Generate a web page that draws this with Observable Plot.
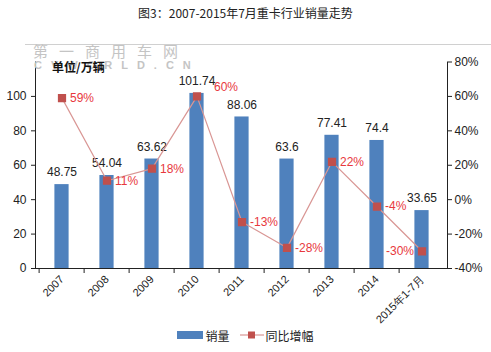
<!DOCTYPE html>
<html>
<head>
<meta charset="utf-8">
<script src="https://cdn.jsdelivr.net/npm/d3@7"></script>
<script src="https://cdn.jsdelivr.net/npm/@observablehq/plot@0.6"></script>
<style>
  body { margin: 0; background: #fff; font-family: "Liberation Sans", Arial, sans-serif; }
  #wrap { position: relative; width: 491px; height: 352px; overflow: hidden; }
  #title { height: 26px; line-height: 26px; text-align: center; font-size: 12px; color: #222;
           font-family: "Noto Sans CJK SC", sans-serif; }
  #legend { position: absolute; top: 326px; left: 0; width: 491px; height: 18px; display: flex;
            justify-content: center; align-items: center; font-size: 12px; color: #222;
            font-family: "Noto Sans CJK SC", sans-serif; }
  .wm { position: absolute; color: #c4c4c4; font-family: "Noto Sans CJK SC", sans-serif; }
</style>
</head>
<body>
<div id="wrap">
  <div id="title">图3：2007-2015年7月重卡行业销量走势</div>
  <div id="chart"></div>
  <div id="legend"></div>
  <div style="position:absolute;left:25px;top:44px;width:466px;height:1px;background:#d0d0d0"></div>
  <div class="wm" style="left:33px;top:40px;font-size:15px;letter-spacing:11px;">第一商用车网</div>
  <div class="wm" style="left:34px;top:59px;font-size:11px;letter-spacing:9px;font-family:'Liberation Sans',sans-serif;font-weight:bold;">CVWORLD.CN</div>
  <div style="position:absolute;left:52px;top:58px;font-size:12px;font-weight:bold;color:#111;font-family:'Noto Sans CJK SC',sans-serif;">单位/万辆</div>
</div>
<script>
const years = ["2007", "2008", "2009", "2010", "2011", "2012", "2013", "2014", "2015年1-7月"];
const sales = [48.75, 54.04, 63.62, 101.74, 88.06, 63.6, 77.41, 74.4, 33.65];
const growth = [59, 11, 18, 60, -13, -28, 22, -4, -30];
const salesTicks = [0, 20, 40, 60, 80, 100];
const growthTicks = [-40, -20, 0, 20, 40, 60, 80];

const BLUE = "#4F81BD";
const LINE = "#D99694";
const MARK = "#C0504D";
const LABEL_RED = "#E8383D";

// growth mapped onto sales scale: -40..80 -> 0..120
const toLeft = p => p + 40;

const data = years.map((y, i) => ({year: y, sales: sales[i], growth: growth[i], g: toLeft(growth[i])}));
const special = new Set(["2010", "2015年1-7月"]);
const dataR = data.filter(d => !special.has(d.year));

const chart = Plot.plot({
  width: 491,
  height: 296,
  marginTop: 35.5,
  marginBottom: 54,
  marginLeft: 35,
  marginRight: 44,
  style: {fontFamily: "'Liberation Sans', Arial, sans-serif", fontSize: "12px", color: "#222", background: "transparent", overflow: "visible"},
  x: {domain: years, padding: 0, label: null},
  y: {domain: [0, 120], label: null},
  marks: [
    Plot.barY(data, {x: "year", y: "sales", fill: BLUE, insetLeft: 15.4, insetRight: 15.4}),
    Plot.text(data, {x: "year", y: "sales", text: d => String(d.sales), dy: -12, fill: "#222", fontSize: 12}),
    Plot.lineY(data, {x: "year", y: "g", stroke: LINE, strokeWidth: 1.2}),
    Plot.dot(data, {x: "year", y: "g", symbol: "square", r: 3.8, fill: MARK, stroke: MARK}),
    Plot.text(dataR, {x: "year", y: "g", text: d => d.growth + "%", dx: 8, textAnchor: "start", fill: LABEL_RED, fontSize: 12}),
    Plot.text(data.filter(d => d.year === "2010"), {x: "year", y: "g", text: d => d.growth + "%", dx: 17, dy: -9, textAnchor: "start", fill: LABEL_RED, fontSize: 12}),
    Plot.text(data.filter(d => d.year === "2015年1-7月"), {x: "year", y: "g", text: d => d.growth + "%", dx: -8, textAnchor: "end", fill: LABEL_RED, fontSize: 12}),
    // left axis
    Plot.axisY({anchor: "left", ticks: salesTicks, tickSize: 4, tickPadding: 5, label: null, fontSize: 12}),
    Plot.frame({anchor: "left", stroke: "#222"}),
    // right axis (growth)
    Plot.axisY({anchor: "right", ticks: growthTicks.map(toLeft), tickFormat: d => (d - 40) + "%", tickSize: 4, tickPadding: 3, label: null, fontSize: 12}),
    Plot.frame({anchor: "right", stroke: "#222"}),
    // x axis
    Plot.frame({anchor: "bottom", stroke: "#222"}),
    Plot.axisX({ticks: years, tickSize: 5, tickFormat: () => "", dx: -412 / 9 / 2, label: null}),
    Plot.axisX({tickSize: 0, tickRotate: -45, tickPadding: 9, label: null, fontSize: 11})
  ]
});
document.getElementById("chart").appendChild(chart);

// legend
const lg = document.getElementById("legend");
lg.innerHTML =
  `<svg width="26" height="10" style="margin-right:2px"><rect x="0" y="1" width="26" height="8" fill="${BLUE}"/></svg>` +
  `<span style="margin-right:10px">销量</span>` +
  `<svg width="24" height="10" style="margin-right:2px"><line x1="0" y1="5" x2="24" y2="5" stroke="${LINE}" stroke-width="1.2"/><rect x="8" y="1.5" width="7" height="7" fill="${MARK}"/></svg>` +
  `<span>同比增幅</span>`;
</script>
</body>
</html>
